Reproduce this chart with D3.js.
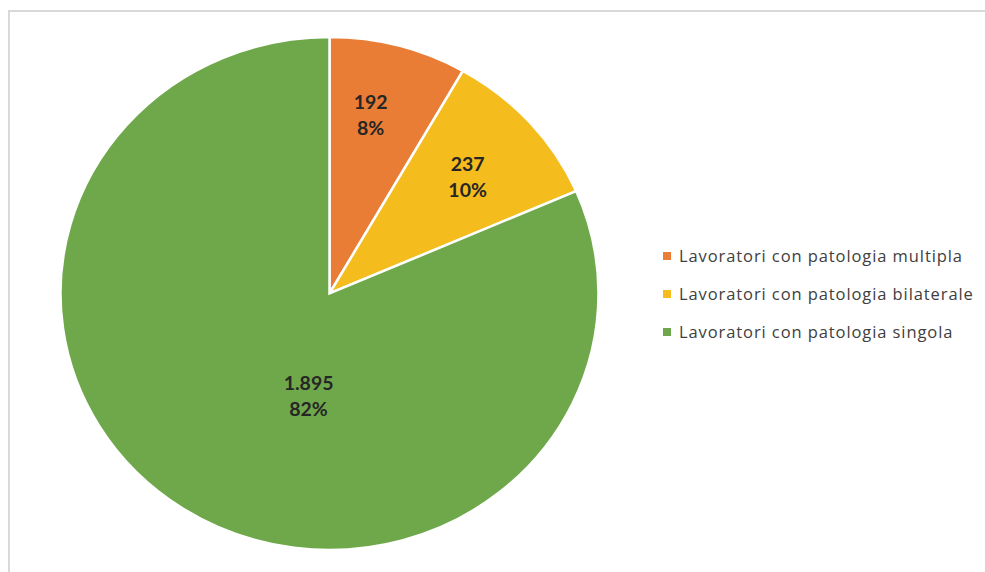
<!DOCTYPE html>
<html><head><meta charset="utf-8">
<script src="https://cdn.jsdelivr.net/npm/d3@7"></script>
<style>html,body{margin:0;padding:0;background:#fff;}svg{display:block;}</style>
</head><body>
<svg id="chart" width="985" height="572"></svg>
<script>
const categories = ["Lavoratori con patologia multipla", "Lavoratori con patologia bilaterale", "Lavoratori con patologia singola"];
const values = [192, 237, 1895];
const valueLabels = ["192", "237", "1.895"];
const percentLabels = ["8%", "10%", "82%"];
const colors = ["#E97D36", "#F5BC1E", "#6FA84A"];

const svg = d3.select("#chart");
// frame
svg.append("rect").attr("x", 9).attr("y", 11).attr("width", 990).attr("height", 580)
  .attr("fill", "none").attr("stroke", "#D9D9D9").attr("stroke-width", 2);

const cx = 329.5, cy = 293.5, R = 256.5, sx = 269 / 256.5;
const pie = d3.pie().sort(null).value(d => d)(values);
const arc = d3.arc().innerRadius(0).outerRadius(R);
const g = svg.append("g").attr("transform", `translate(${cx},${cy}) scale(${sx},1)`);
g.selectAll("path").data(pie).join("path")
  .attr("d", arc).attr("fill", (d, i) => colors[i])
  .attr("stroke", "#fff").attr("stroke-width", 2.5).attr("vector-effect", "non-scaling-stroke");

// label placement (fraction of radius, angle shift in degrees from slice middle)
const labelPlace = [{r: 0.72, da: -2.6}, {r: 0.69, da: 0}, {r: 0.40, da: -22}];
const lab = svg.append("g").attr("transform", `translate(${cx},${cy})`);
pie.forEach((d, i) => {
  const a = (d.startAngle + d.endAngle) / 2 + labelPlace[i].da * Math.PI / 180;
  const r = R * labelPlace[i].r;
  const x = Math.sin(a) * r * sx, y = -Math.cos(a) * r;
  const t = lab.append("text").attr("x", x).attr("y", y)
    .attr("text-anchor", "middle").attr("font-family", "Lato, 'Open Sans', sans-serif")
    .attr("font-weight", "bold").attr("font-size", 19.5).attr("fill", "#262626");
  t.append("tspan").attr("x", x).attr("dy", "-0.2em").text(valueLabels[i]);
  t.append("tspan").attr("x", x).attr("dy", "1.3em").text(percentLabels[i]);
});

// legend
const leg = svg.append("g").attr("transform", "translate(663,256)");
const rows = leg.selectAll("g").data(categories).join("g")
  .attr("transform", (d, i) => `translate(0,${i * 38})`);
rows.append("rect").attr("x", 0).attr("y", -4).attr("width", 8).attr("height", 8)
  .attr("fill", (d, i) => colors[i]);
const texts = rows.append("text").attr("x", 16).attr("y", 6)
  .attr("font-family", "'Open Sans', sans-serif").attr("font-size", 16.5)
  .attr("fill", "#404040").text(d => d);
// widen spacing so the first entry spans the same width as the reference
const w0 = texts.node().getComputedTextLength();
const target = 283;
const ls = Math.max(0, (target - w0) / (categories[0].length - 1));
texts.attr("letter-spacing", ls.toFixed(2) + "px");
</script>
</body></html>
